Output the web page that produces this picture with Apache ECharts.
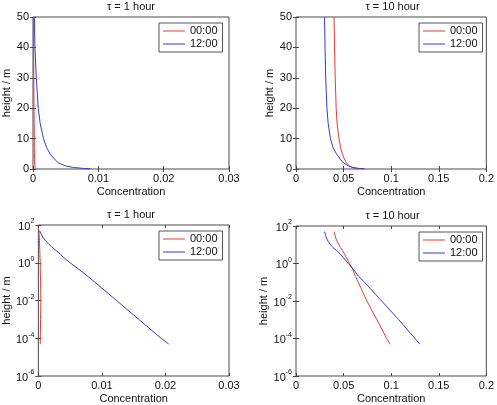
<!DOCTYPE html>
<html>
<head>
<meta charset="utf-8">
<script src="https://cdn.jsdelivr.net/npm/echarts@6/dist/echarts.min.js"></script>
<style>
  html, body { margin: 0; padding: 0; background: #fff; }
  #main { width: 497px; height: 405px; }
</style>
</head>
<body>
<div id="main"></div>
<script>
// heights (m) of the profile points, shared by all panels
const heights = [50, 40, 30, 20, 15, 10, 7, 5, 3, 2, 1, 0.5, 0.2, 0.1, 0.01, 1e-3, 1e-4, 5e-5];

// concentration profiles
const tau1_0000 = [0.0001, 0.0001, 0.00012, 0.00015, 0.00018, 0.0002, 0.0002, 0.00022, 0.00025, 0.00025, 0.0003, 0.0003, 0.00032, 0.00035, 0.0004, 0.00035, 0.0003, 0.0003];
const tau1_1200 = [0.0002, 0.0003, 0.0005, 0.0008, 0.0011, 0.0016, 0.0021, 0.0026, 0.0034, 0.0039, 0.0050, 0.0062, 0.0077, 0.0088, 0.0123, 0.0158, 0.0193, 0.0205];
const tau10_0000 = [0.0400, 0.0405, 0.0412, 0.0422, 0.0432, 0.0452, 0.0468, 0.0487, 0.0512, 0.0530, 0.0562, 0.0595, 0.0625, 0.0655, 0.0745, 0.0850, 0.0953, 0.0988];
const tau10_1200 = [0.0300, 0.0305, 0.0312, 0.0325, 0.0338, 0.0362, 0.0390, 0.0425, 0.0470, 0.0500, 0.0550, 0.0600, 0.0660, 0.0720, 0.0900, 0.1080, 0.1250, 0.1300];

const seriesNames = ['00:00', '12:00'];
const titles = ['\u03c4 = 1 hour', '\u03c4 = 10 hour'];
const xTicks1 = [0, 0.01, 0.02, 0.03];
const xTicks10 = [0, 0.05, 0.1, 0.15, 0.2];

const RED = '#e23a3a';
const BLUE = '#3a3ac8';
const FONT = 'Liberation Sans, Arial, sans-serif';

// linear panels only show what sits visibly above the axis
function pairs(conc, linear) {
  const out = [];
  for (let i = 0; i < heights.length; i++) {
    if (linear && heights[i] < 0.1) continue;
    out.push([conc[i], heights[i]]);
  }
  return out;
}

const panels = [
  { left: 33, top: 17, w: 196, h: 152, log: false, xt: xTicks1, s: [tau1_0000, tau1_1200], title: titles[0], nameGap: 20 },
  { left: 296, top: 17, w: 193, h: 152, log: false, xt: xTicks10, s: [tau10_0000, tau10_1200], title: titles[1], nameGap: 18 },
  { left: 33, top: 225, w: 196, h: 153, log: true, xt: xTicks1, s: [tau1_0000, tau1_1200], title: titles[0], nameGap: 25 },
  { left: 296, top: 226, w: 193, h: 153, log: true, xt: xTicks10, s: [tau10_0000, tau10_1200], title: titles[1], nameGap: 25 }
];

const grid = [], xAxis = [], yAxis = [], series = [], title = [], legend = [];

const tickStyle = { inside: true, length: 3, lineStyle: { color: '#444' } };
const labelStyle = { color: '#111', fontSize: 11, fontFamily: FONT };

// log labels: only every second decade, as 10 with a raised exponent
function logLabel(v) {
  const e = Math.round(Math.log10(v));
  if (e % 2 !== 0) return '';
  return '{b|10}{sup|' + e + '}';
}

panels.forEach((p, i) => {
  grid.push({
    left: p.left, top: p.top, width: p.w, height: p.h,
    show: true, borderColor: '#4a4a4a', borderWidth: 1, backgroundColor: '#fff'
  });
  const xmin = p.xt[0], xmax = p.xt[p.xt.length - 1];
  const xint = p.xt[1] - p.xt[0];
  // bottom + top x axes
  xAxis.push({
    type: 'value', gridIndex: i, min: xmin, max: xmax, interval: xint,
    axisLine: { show: false }, axisTick: tickStyle, splitLine: { show: false },
    axisLabel: Object.assign({ margin: 4, formatter: v => String(+v.toFixed(4)) }, labelStyle),
    name: 'Concentration', nameLocation: 'middle', nameGap: 17,
    nameTextStyle: { color: '#111', fontSize: 11, fontFamily: FONT }
  });
  xAxis.push({
    type: 'value', gridIndex: i, position: 'top', min: xmin, max: xmax, interval: xint,
    axisLine: { show: false }, axisTick: tickStyle, splitLine: { show: false },
    axisLabel: { show: false }
  });
  const yBase = p.log
    ? { type: 'log', logBase: 10, min: 1e-6, max: 100, interval: 2 }
    : { type: 'value', min: 0, max: 50, interval: 10 };
  const yLabel = p.log
    ? Object.assign({
        margin: 4,
        formatter: logLabel,
        rich: {
          b: { fontSize: 11, fontFamily: FONT, color: '#111', lineHeight: 14, verticalAlign: 'bottom' },
          sup: { fontSize: 7, fontFamily: FONT, color: '#111', lineHeight: 14, verticalAlign: 'top' }
        }
      }, labelStyle)
    : Object.assign({ margin: 4 }, labelStyle);
  yAxis.push(Object.assign({
    gridIndex: i,
    axisLine: { show: false }, axisTick: tickStyle, splitLine: { show: false },
    axisLabel: yLabel,
    name: 'height / m', nameLocation: 'middle', nameGap: p.nameGap, nameRotate: 90,
    nameTextStyle: { color: '#111', fontSize: 11, fontFamily: FONT }
  }, yBase));
  yAxis.push(Object.assign({
    gridIndex: i, position: 'right',
    axisLine: { show: false }, axisTick: tickStyle, splitLine: { show: false },
    axisLabel: { show: false }
  }, yBase));

  title.push({
    text: p.title, left: p.left + p.w / 2, top: p.top - 16, textAlign: 'center', padding: 0,
    textStyle: { fontSize: 11, fontWeight: 'normal', color: '#111', fontFamily: FONT }
  });

  legend.push({
    data: seriesNames, orient: 'vertical',
    left: p.left + p.w - 70, top: p.top + 6,
    icon: 'rect', itemWidth: 22, itemHeight: 1, itemGap: 1,
    padding: [2, 5, 2, 4], borderColor: '#555', borderWidth: 1, backgroundColor: '#fff',
    textStyle: { fontSize: 11, color: '#111', fontFamily: FONT, lineHeight: 12 },
    selectedMode: false
  });

  [RED, BLUE].forEach((c, k) => {
    series.push({
      type: 'line', name: seriesNames[k],
      xAxisIndex: i * 2, yAxisIndex: i * 2,
      data: pairs(p.s[k], !p.log),
      symbol: 'none', color: c,
      lineStyle: { color: c, width: 1 },
      clip: true, animation: false
    });
  });
});

const chart = echarts.init(document.getElementById('main'));
chart.setOption({
  backgroundColor: '#fff',
  animation: false,
  title, legend, grid, xAxis, yAxis, series
});
</script>
</body>
</html>
